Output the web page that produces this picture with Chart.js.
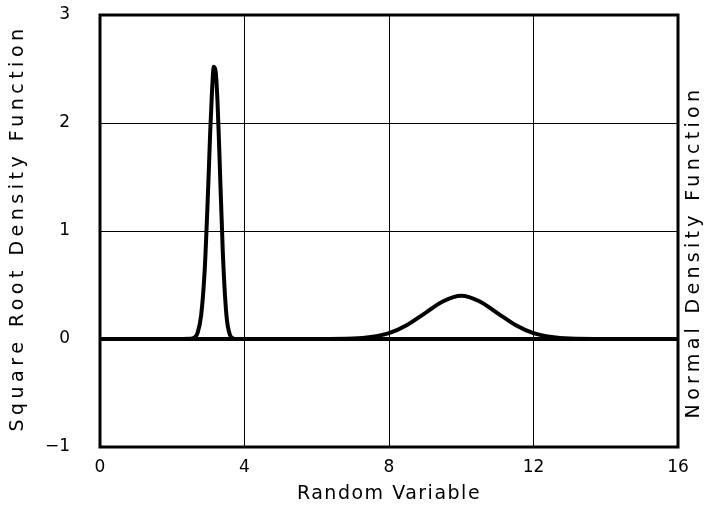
<!DOCTYPE html>
<html>
<head>
<meta charset="utf-8">
<script src="https://cdn.jsdelivr.net/npm/chart.js@4.4.0/dist/chart.umd.min.js"></script>
<style>
  html, body { margin: 0; padding: 0; background: #fff; }
  #wrap { width: 706px; height: 514px; }
</style>
</head>
<body>
<div id="wrap"><canvas id="chart"></canvas></div>
<script>
// values
const sqrtX = [0, 2.0, 2.5, 2.6, 2.7, 2.8, 2.9, 3.0, 3.05, 3.1, 3.15, 3.2, 3.25, 3.3, 3.4, 3.5, 3.6, 3.7, 3.8, 4.5, 16];
const sqrtY = [0, 0, 0.002, 0.011, 0.055, 0.22, 0.65, 1.45, 1.91, 2.29, 2.52, 2.48, 2.22, 1.77, 0.8, 0.22, 0.036, 0.003, 0, 0, 0];

const normX = [0, 6, 7, 7.5, 8, 8.5, 9, 9.5, 10, 10.5, 11, 11.5, 12, 12.5, 13, 14, 16];
const normY = [0, 0, 0.004, 0.018, 0.054, 0.13, 0.24, 0.35, 0.4, 0.35, 0.24, 0.13, 0.054, 0.018, 0.004, 0, 0];

const xTicks = [0, 4, 8, 12, 16];
const yTicks = [-1, 0, 1, 2, 3];

const xTitle = 'Random Variable';
const yTitle = 'Square Root Density Function';
const y2Title = 'Normal Density Function';

const toPoints = (xs, ys) => xs.map((x, i) => ({ x: x, y: ys[i] }));

const fontFamily = 'DejaVu Sans';

const noPad = s => { s.paddingTop = 0; s.paddingBottom = 0; s.paddingLeft = 0; s.paddingRight = 0; };

// frame and axis titles, drawn with the wide spacing of the plotter font
const frame = {
    id: 'frame',
    afterDatasetsDraw(chart) {
        const { ctx, chartArea: a } = chart;
        ctx.save();
        ctx.strokeStyle = '#000';
        ctx.lineWidth = 3;
        ctx.strokeRect(a.left, a.top, a.right - a.left, a.bottom - a.top);
        ctx.restore();
    },
    afterDraw(chart) {
        const { ctx, chartArea: a } = chart;
        ctx.save();
        ctx.fillStyle = '#000';
        ctx.font = '19px "' + fontFamily + '"';
        ctx.textAlign = 'center';
        ctx.textBaseline = 'middle';
        ctx.letterSpacing = '1.5px';
        ctx.fillText(xTitle, (a.left + a.right) / 2, 494);

        ctx.letterSpacing = '4.5px';
        ctx.save();
        ctx.translate(18, 228);
        ctx.rotate(-Math.PI / 2);
        ctx.fillText(yTitle, 0, 0);
        ctx.restore();

        ctx.letterSpacing = '4.3px';
        ctx.translate(694, 252);
        ctx.rotate(-Math.PI / 2);
        ctx.fillText(y2Title, 0, 0);
        ctx.restore();
    }
};

new Chart(document.getElementById('chart'), {
    type: 'line',
    data: {
        datasets: [
            { data: toPoints(sqrtX, sqrtY), borderColor: '#000', borderWidth: 4, pointRadius: 0, cubicInterpolationMode: 'monotone' },
            { data: toPoints(normX, normY), borderColor: '#000', borderWidth: 4, pointRadius: 0, cubicInterpolationMode: 'monotone' }
        ]
    },
    options: {
        responsive: true,
        maintainAspectRatio: false,
        animation: false,
        layout: { padding: { top: 15, right: 28 } },
        plugins: { legend: { display: false }, tooltip: { enabled: false } },
        scales: {
            x: {
                type: 'linear', min: 0, max: 16,
                afterBuildTicks: s => { s.ticks = xTicks.map(v => ({ value: v })); },
                afterFit: s => { s.height = 67; noPad(s); },
                grid: { color: '#000', lineWidth: 1, drawTicks: false },
                border: { display: false },
                ticks: { color: '#000', padding: 10, font: { family: fontFamily, size: 17 } }
            },
            y: {
                min: -1, max: 3,
                afterBuildTicks: s => { s.ticks = yTicks.map(v => ({ value: v })); },
                afterFit: s => { s.width = 100; noPad(s); },
                grid: { color: '#000', lineWidth: 1, drawTicks: false },
                border: { display: false },
                ticks: {
                    color: '#000', padding: 30, font: { family: fontFamily, size: 17 },
                    callback: v => String(v).replace('-', '\u2212')
                }
            }
        }
    },
    plugins: [frame]
});
</script>
</body>
</html>
